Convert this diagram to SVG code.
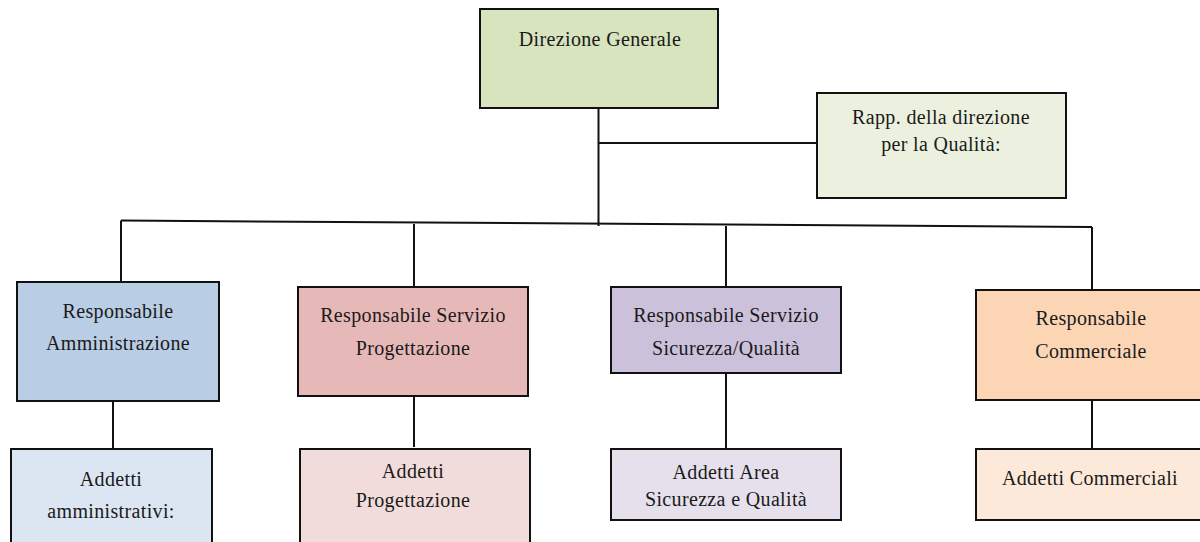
<svg xmlns="http://www.w3.org/2000/svg" width="1200" height="542" viewBox="0 0 1200 542">
<style>
.b{stroke:#111;stroke-width:2}
.c{stroke:#111;stroke-width:2;fill:none}
.t text{font-size:20px;fill:#1a1a1a;text-anchor:middle;letter-spacing:0.35px}
</style>
<rect width="1200" height="542" fill="#fff"/>
<g id="connectors">
<path class="c" d="M598.5 108V226"/>
<path class="c" d="M599 143H817"/>
<path class="c" d="M121 220.5L1092 227"/>
<path class="c" d="M121 220.5V282"/>
<path class="c" d="M414 224V287"/>
<path class="c" d="M726 226V287"/>
<path class="c" d="M1092 227V290"/>
<path class="c" d="M113 401V449"/>
<path class="c" d="M414 396V447"/>
<path class="c" d="M726 373V449"/>
<path class="c" d="M1092 400V449"/>
</g>
<g class="t" font-family="Liberation Serif, Times New Roman, serif">
<g id="direzione"><rect class="b" x="480" y="9" width="238" height="99" fill="#d7e4bd"/><text x="600" y="46" letter-spacing="0.8">Direzione Generale</text></g>
<g id="rapp"><rect class="b" x="817" y="93" width="249" height="105" fill="#ebf1de"/><text x="941" y="124">Rapp. della direzione</text><text x="941" y="151">per la Qualità:</text></g>
<g id="resp-amm"><rect class="b" x="17" y="282" width="202" height="119" fill="#b9cde5"/><text x="118" y="318">Responsabile</text><text x="118" y="350">Amministrazione</text></g>
<g id="resp-prog"><rect class="b" x="298" y="287" width="230" height="109" fill="#e6b9b8"/><text x="413" y="322">Responsabile Servizio</text><text x="413" y="355">Progettazione</text></g>
<g id="resp-sic"><rect class="b" x="611" y="287" width="230" height="86" fill="#ccc1da"/><text x="726" y="322">Responsabile Servizio</text><text x="726" y="355">Sicurezza/Qualità</text></g>
<g id="resp-comm"><rect class="b" x="976" y="290" width="230" height="110" fill="#fcd5b5"/><text x="1091" y="325">Responsabile</text><text x="1091" y="358">Commerciale</text></g>
<g id="add-amm"><rect class="b" x="11" y="449" width="201" height="100" fill="#dce6f2"/><text x="111" y="486">Addetti</text><text x="111" y="518">amministrativi:</text></g>
<g id="add-prog"><rect class="b" x="300" y="449" width="230" height="100" fill="#f2dcdb"/><text x="413" y="478">Addetti</text><text x="413" y="507">Progettazione</text></g>
<g id="add-sic"><rect class="b" x="611" y="449" width="230" height="71" fill="#e6e0ec"/><text x="726" y="479">Addetti Area</text><text x="726" y="506">Sicurezza e Qualità</text></g>
<g id="add-comm"><rect class="b" x="976" y="449" width="230" height="71" fill="#fde9d9"/><text x="1090" y="485">Addetti Commerciali</text></g>
</g>
</svg>
